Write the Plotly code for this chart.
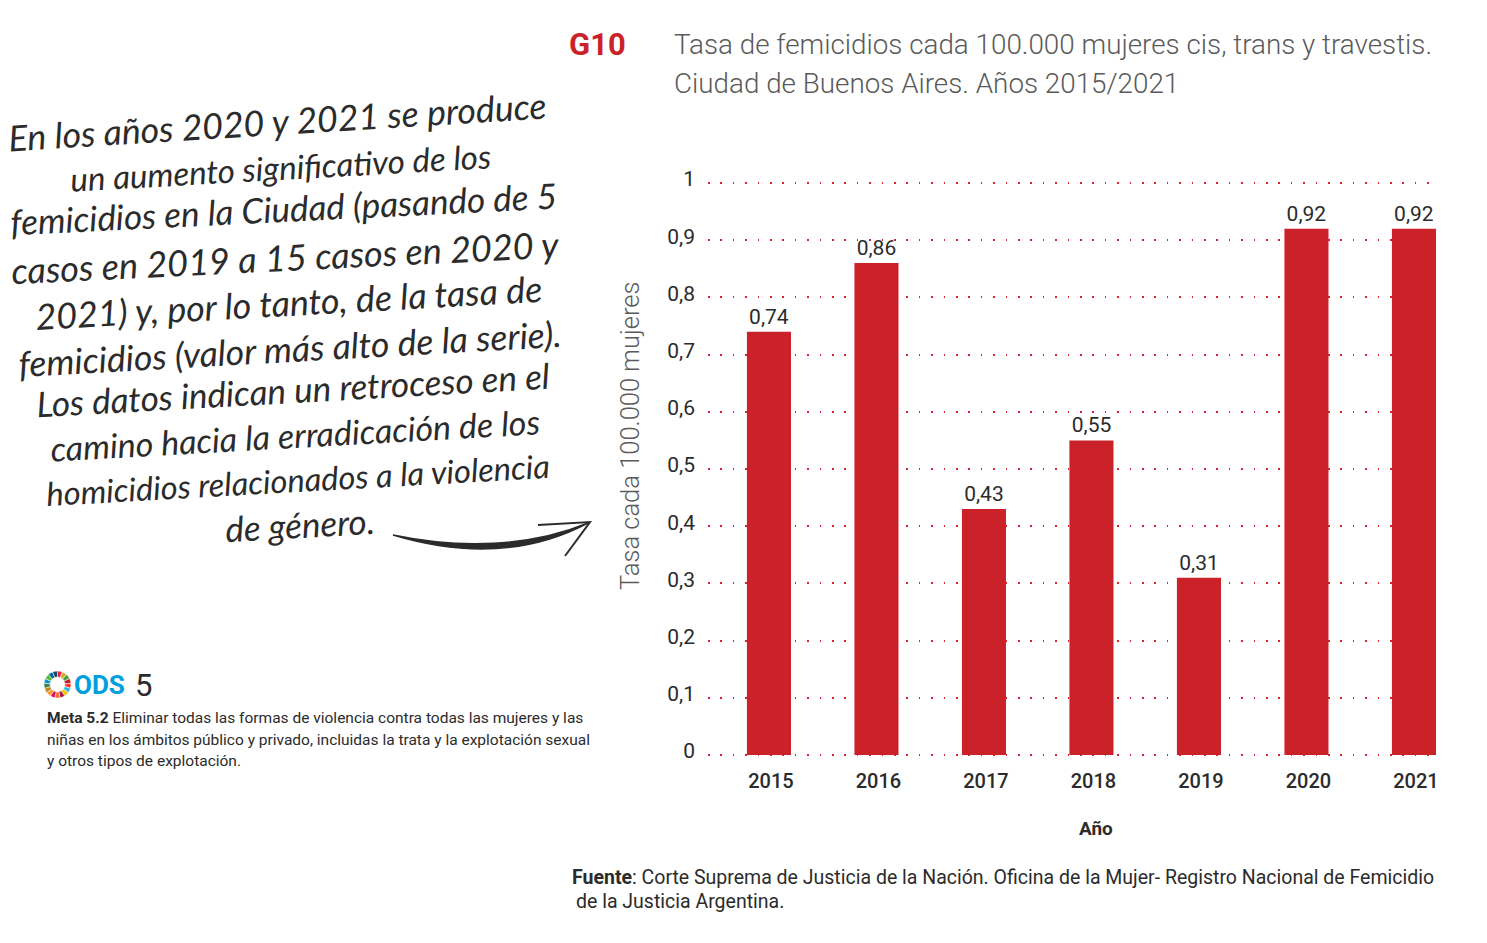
# ---------------------------
# Tasa de femicidios, CABA 2015-2021
# ---------------------------
import plotly.graph_objects as go

W, H = 1487, 943

years = ["2015", "2016", "2017", "2018", "2019", "2020", "2021"]
tasa = [0.74, 0.86, 0.43, 0.55, 0.31, 0.92, 0.92]
y_ticks = [0, 0.1, 0.2, 0.3, 0.4, 0.5, 0.6, 0.7, 0.8, 0.9, 1]

title_lines = [
    "Tasa de femicidios cada 100.000 mujeres cis, trans y travestis.",
    "Ciudad de Buenos Aires. Años 2015/2021",
]
note_lines = [
    "En los años 2020 y 2021 se produce",
    "un aumento significativo de los",
    "femicidios en la Ciudad (pasando de 5",
    "casos en 2019 a 15 casos en 2020 y",
    "2021) y, por lo tanto, de la tasa de",
    "femicidios (valor más alto de la serie).",
    "Los datos indican un retroceso en el",
    "camino hacia la erradicación de los",
    "homicidios relacionados a la violencia",
    "de género.",
]
meta_lines = [
    "<b>Meta 5.2</b> Eliminar todas las formas de violencia contra todas las mujeres y las",
    "niñas en los ámbitos público y privado, incluidas la trata y la explotación sexual",
    "y otros tipos de explotación.",
]
source_lines = [
    "<b>Fuente</b>: Corte Suprema de Justicia de la Nación. Oficina de la Mujer- Registro Nacional de Femicidio",
    "de la Justicia Argentina.",
]
ods_colors = ["#e5243b", "#dda63a", "#4c9f38", "#c5192d", "#ff3a21", "#26bde2", "#fcc30b", "#a21942", "#fd6925",
              "#dd1367", "#fd9d24", "#bf8b2e", "#3f7e44", "#0a97d9", "#56c02b", "#00689d", "#19486a"]
ods_slices = [1] * 17

RED = "#cb2229"
DARK = "#2b2b2b"
GREY = "#5a5a5a"


def px(x):
    return x / W


def py(y):
    return 1 - y / H


def label(text, x, y, size, color=DARK, family="Roboto", anchor="left", angle=0, weight=None, style=None):
    font = dict(family=family, size=size, color=color)
    if weight:
        font["weight"] = weight
    if style:
        font["style"] = style
    fig.add_annotation(text=text, x=px(x), y=py(y), xref="paper", yref="paper", showarrow=False,
                       xanchor=anchor, yanchor="middle", textangle=angle, font=font)


fig = go.Figure()
fig.add_trace(go.Bar(x=years, y=tasa, width=0.41, marker=dict(color=RED, line=dict(width=0)),
                     text=tasa, texttemplate="%{y:.2f}", textposition="outside", cliponaxis=False,
                     textfont=dict(family="Roboto", size=21, color=DARK)))

# ODS wheel
fig.add_trace(go.Pie(values=ods_slices, marker=dict(colors=ods_colors, line=dict(width=0.5, color="white")),
                     hole=0.55, sort=False, direction="clockwise", textinfo="none", showlegend=False,
                     domain=dict(x=[px(44), px(71)], y=[py(698), py(671)])))

# Titles
label("<b>G10</b>", 566.5, 45, 31, color=RED)
label(title_lines[0], 672, 45, 27.8, color=GREY, weight=300)
label(title_lines[1], 672, 83, 27.8, color=GREY, weight=300)

# Axis titles
label("Tasa cada 100.000 mujeres", 630, 436, 25.5, color=GREY, anchor="center", angle=-90, weight=300)
label("<b>Año</b>", 1096, 828, 19, anchor="center")

# Handwritten note
note_x = [277, 280, 283, 285, 288, 290, 293, 295, 298, 300]
note_y = [122, 167, 208, 257, 302, 348, 389, 434, 479, 524]
note_a = [-3.5, -3.2, -2.8, -2.8, -3.2, -3.2, -3.2, -3.2, -3.2, -3.2]
note_s = [35.7, 33, 35, 36, 35.8, 35.6, 35, 34, 32.6, 35]
for line, x, y, a, s in zip(note_lines, note_x, note_y, note_a, note_s):
    label(line, x, y, s, family="Lato", anchor="center", angle=a, style="italic")

# ODS + meta
label("<b>ODS</b>", 72, 685, 26, color="#00a0dc")
label("5", 133, 685, 31)
for line, y in zip(meta_lines, [718, 740, 761]):
    label(line, 45, y, 15.5)

# Source
label(source_lines[0], 570, 877, 19.5)
label(source_lines[1], 574, 901, 19.5)

# Brush arrow
body = f"M {px(393)} {py(535)} C {px(450)} {py(552)}, {px(520)} {py(559)}, {px(588)} {py(523)} " \
       f"C {px(530)} {py(547)}, {px(460)} {py(549)}, {px(393)} {py(535)} Z"
head = f"M {px(538)} {py(525)} L {px(590)} {py(522)} L {px(565)} {py(556)}"
fig.add_shape(type="path", path=body, xref="paper", yref="paper", fillcolor=DARK, line=dict(color=DARK, width=1.5))
fig.add_shape(type="path", path=head, xref="paper", yref="paper", line=dict(color=DARK, width=2))

fig.update_layout(
    width=W, height=H, margin=dict(l=0, r=0, t=0, b=0), autosize=False,
    paper_bgcolor="white", plot_bgcolor="white", showlegend=False, separators=",.",
    font=dict(family="Roboto", color=DARK),
)
fig.update_xaxes(type="category", domain=[px(708), px(1436)], range=[-0.567, 6.205], showgrid=False, zeroline=False,
                 showline=False, ticks="", ticklabelshift=2, ticklabelstandoff=6, automargin=False,
                 tickfont=dict(family="Roboto", size=20, color=DARK, weight=500))
# range runs a little past 0 and 1 so the end gridlines are kept
fig.update_yaxes(domain=[py(760.7), py(177.3)], range=[-0.01, 1.01], tickvals=y_ticks,
                 ticktext=[str(v).replace(".", ",") for v in y_ticks], automargin=False,
                 showgrid=True, gridcolor="#d8232f", gridwidth=1.5, griddash="1.5px,10.9px", zeroline=False, showline=False,
                 ticks="", ticklabelshift=-4, ticklabelstandoff=12, tickfont=dict(family="Roboto", size=21, color=DARK))

fig.write_html("out.html", config={"responsive": False, "displayModeBar": False},
               post_script="document.body.style.margin='0';")
